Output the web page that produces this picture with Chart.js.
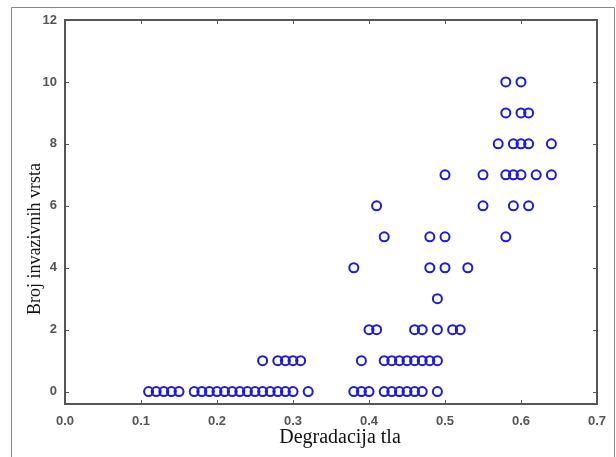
<!DOCTYPE html>
<html>
<head>
<meta charset="utf-8">
<script src="https://cdn.jsdelivr.net/npm/chart.js@4"></script>
<style>
  body { margin: 0; background: #fff; }
  #wrap { width: 616px; height: 457px; }
</style>
</head>
<body>
<div id="wrap"><canvas id="canvas1"></canvas></div>
<script>
// degradacija tla (x) i broj invazivnih vrsta (y), procitano sa slike
const degradacija = [
  0.11, 0.12, 0.13, 0.14, 0.15,
  0.17, 0.18, 0.19, 0.20, 0.21, 0.22, 0.23, 0.24, 0.25, 0.26, 0.27, 0.28, 0.29, 0.30, 0.32,
  0.38, 0.39, 0.40, 0.42, 0.43, 0.44, 0.45, 0.46, 0.47, 0.49,
  0.26, 0.28, 0.29, 0.30, 0.31,
  0.39, 0.42, 0.43, 0.44, 0.45, 0.46, 0.47, 0.48, 0.49,
  0.40, 0.41, 0.46, 0.47, 0.49, 0.51, 0.52,
  0.49,
  0.38, 0.48, 0.50, 0.53,
  0.42, 0.48, 0.50, 0.58,
  0.41, 0.55, 0.59, 0.61,
  0.50, 0.55, 0.58, 0.59, 0.60, 0.62, 0.64,
  0.57, 0.59, 0.60, 0.61, 0.64,
  0.58, 0.60, 0.61,
  0.58, 0.60
]
const brojVrsta = [
  0, 0, 0, 0, 0,
  0, 0, 0, 0, 0, 0, 0, 0, 0, 0, 0, 0, 0, 0, 0,
  0, 0, 0, 0, 0, 0, 0, 0, 0, 0,
  1, 1, 1, 1, 1,
  1, 1, 1, 1, 1, 1, 1, 1, 1,
  2, 2, 2, 2, 2, 2, 2,
  3,
  4, 4, 4, 4,
  5, 5, 5, 5,
  6, 6, 6, 6,
  7, 7, 7, 7, 7, 7, 7,
  8, 8, 8, 8, 8,
  9, 9, 9,
  10, 10
]
const xTicks = [0, 0.1, 0.2, 0.3, 0.4, 0.5, 0.6, 0.7]
const yTicks = [0, 2, 4, 6, 8, 10, 12]
const xNaslov = 'Degradacija tla'
const yNaslov = 'Broj invazivnih vrsta'

const tacke = degradacija.map((x, i) => ({ x: x, y: brojVrsta[i] }))

// okvir oko grafika, okvir slike, crtice prema unutra i nazivi osa
const okvir = {
  id: 'okvir',
  afterDraw(chart) {
    const c = chart.ctx
    const a = chart.chartArea
    const sx = chart.scales.x
    const sy = chart.scales.y
    c.save()
    c.strokeStyle = '#8a8a8a'
    c.lineWidth = 1
    c.beginPath()
    c.moveTo(11.5, 470); c.lineTo(11.5, 7.5); c.lineTo(614.5, 7.5); c.lineTo(614.5, 470)
    c.stroke()
    c.strokeStyle = '#555'
    c.lineWidth = 2
    c.strokeRect(a.left, a.top, a.right - a.left, a.bottom - a.top)
    c.lineWidth = 1
    c.beginPath()
    xTicks.forEach(v => {
      const p = Math.round(sx.getPixelForValue(v)) + 0.5
      c.moveTo(p, a.bottom); c.lineTo(p, a.bottom - 4)
      c.moveTo(p, a.top); c.lineTo(p, a.top + 4)
    })
    yTicks.forEach(v => {
      const p = Math.round(sy.getPixelForValue(v)) + 0.5
      c.moveTo(a.left, p); c.lineTo(a.left + 4, p)
      c.moveTo(a.right, p); c.lineTo(a.right - 4, p)
    })
    c.stroke()

    c.fillStyle = '#111'
    c.textAlign = 'center'
    c.textBaseline = 'alphabetic'
    c.font = '20px "Liberation Serif"'
    c.fillText(xNaslov, 340, 443)
    c.translate(40, 239)
    c.rotate(-Math.PI / 2)
    c.font = '18px "Liberation Serif"'
    c.fillText(yNaslov, 0, 0)
    c.restore()
  }
}

const ctx1 = document.getElementById('canvas1').getContext('2d')
const myChart = new Chart(ctx1, {
  type: 'scatter',
  data: {
    datasets: [{
      data: tacke,
      pointStyle: 'circle',
      pointRadius: 4.5,
      pointBorderWidth: 2,
      pointBorderColor: '#1a1ae6',
      pointBackgroundColor: 'rgba(0,0,0,0)'
    }]
  },
  options: {
    responsive: true,
    maintainAspectRatio: false,
    animation: false,
    layout: { padding: { left: 12, top: 20, right: 19, bottom: 6 } },
    plugins: { legend: { display: false }, tooltip: { enabled: false } },
    scales: {
      x: {
        type: 'linear',
        min: 0,
        max: 0.7,
        afterBuildTicks: s => { s.ticks = xTicks.map(v => ({ value: v })) },
        afterFit: s => { s.height = 47 },
        grid: { display: false },
        border: { display: false },
        ticks: {
          padding: 2,
          color: '#555',
          font: { family: 'Liberation Sans', size: 13, weight: 'bold' },
          callback: v => v.toFixed(1)
        }
      },
      y: {
        type: 'linear',
        min: -0.4,
        max: 12,
        afterBuildTicks: s => { s.ticks = yTicks.map(v => ({ value: v })) },
        afterFit: s => { s.width = 53 },
        grid: { display: false },
        border: { display: false },
        ticks: {
          padding: 0,
          color: '#555',
          font: { family: 'Liberation Sans', size: 13, weight: 'bold' }
        }
      }
    }
  },
  plugins: [okvir]
})
</script>
</body>
</html>
